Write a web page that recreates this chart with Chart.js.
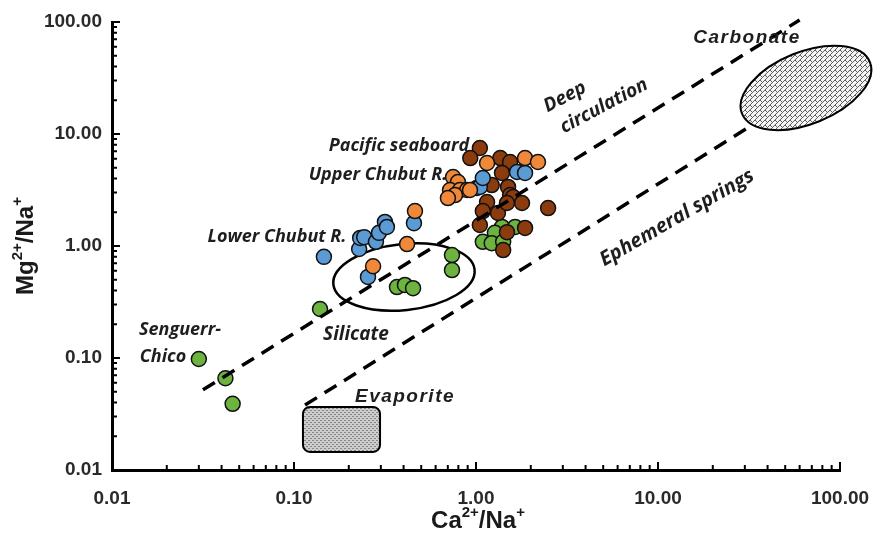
<!DOCTYPE html>
<html>
<head>
<meta charset="utf-8">
<script src="https://cdn.jsdelivr.net/npm/chart.js@4.4.1/dist/chart.umd.min.js"></script>
<style>
	html, body {margin: 0; padding: 0; background: #fff;}
	#wrap {width: 874px; height: 538px;}
</style>
</head>
<body>
<div id="wrap"><canvas id="chart"></canvas></div>
<script>
// Ca2+/Na+ (x) and Mg2+/Na+ (y)
const lowerChubutX = [0.146, 0.228, 0.231, 0.243, 0.282, 0.293, 0.316, 0.324, 0.255, 0.456, 1.01, 1.05, 1.09, 1.68, 1.86];
const lowerChubutY = [0.80, 0.94, 1.18, 1.20, 1.09, 1.31, 1.64, 1.48, 0.53, 1.60, 3.30, 3.37, 4.05, 4.58, 4.49];

const upperChubutX = [0.272, 0.418, 0.462, 0.748, 0.796, 0.720, 0.817, 0.893, 0.767, 0.701, 0.927, 1.15, 1.86, 2.19];
const upperChubutY = [0.66, 1.04, 2.05, 4.13, 3.73, 3.16, 3.16, 3.16, 2.85, 2.68, 3.16, 5.51, 6.10, 5.62];

const pacificX = [1.05, 0.93, 1.36, 1.54, 1.39, 1.22, 1.50, 1.54, 1.60, 1.15, 1.09, 1.32, 1.79, 1.48, 2.49, 1.05, 1.86, 1.48, 1.41];
const pacificY = [7.5, 6.1, 6.1, 5.62, 4.49, 3.5, 3.37, 2.85, 2.74, 2.47, 2.05, 1.97, 2.42, 2.42, 2.18, 1.54, 1.45, 1.33, 0.92];

const senguerrX = [0.030, 0.042, 0.046, 0.139, 0.368, 0.407, 0.451, 0.738, 0.738, 1.39, 1.64, 1.27, 1.09, 1.22, 1.41];
const senguerrY = [0.098, 0.066, 0.039, 0.274, 0.43, 0.449, 0.42, 0.83, 0.61, 1.48, 1.48, 1.31, 1.09, 1.06, 1.09];

// boundary lines
const deepLineX = [0.0316, 60];
const deepLineY = [0.052, 104];
const ephemeralLineX = [0.115, 31];
const ephemeralLineY = [0.038, 11.3];

const tickValues = [0.01, 0.1, 1, 10, 100];

const pts = (xs, ys) => xs.map((x, i) => ({x: x, y: ys[i]}));

const pointSet = (label, xs, ys, color) => ({
	label: label,
	data: pts(xs, ys),
	backgroundColor: color,
	borderColor: '#111',
	borderWidth: 1.5,
	pointRadius: 7.5,
	pointHoverRadius: 7.5,
	showLine: false,
});

const lineSet = (label, xs, ys) => ({
	label: label,
	data: pts(xs, ys),
	borderColor: '#000',
	borderWidth: 3.5,
	borderDash: [14, 9],
	pointRadius: 0,
	showLine: true,
	fill: false,
	clip: false,
});

function makePattern(ctx, size, draw) {
	const c = document.createElement('canvas');
	c.width = c.height = size;
	draw(c.getContext('2d'), size);
	return ctx.createPattern(c, 'repeat');
}

function superText(ctx, parts, x, y, size, rotate) {
	// parts: [text, isSuperscript]
	ctx.save();
	ctx.translate(x, y);
	if (rotate) ctx.rotate(rotate);
	const big = `bold ${size}px "Liberation Sans", Arial, sans-serif`;
	const small = `bold ${Math.round(size * 0.62)}px "Liberation Sans", Arial, sans-serif`;
	let w = 0;
	for (const [t, s] of parts) {
		ctx.font = s ? small : big;
		w += ctx.measureText(t).width;
	}
	let cx = -w / 2;
	ctx.fillStyle = '#1a1a1a';
	ctx.textBaseline = 'middle';
	for (const [t, s] of parts) {
		ctx.font = s ? small : big;
		ctx.fillText(t, cx, s ? -size * 0.35 : 0);
		cx += ctx.measureText(t).width;
	}
	ctx.restore();
}

const overlay = {
	id: 'overlay',
	beforeDatasetsDraw: chart => {
		const ctx = chart.ctx;
		const xs = chart.scales.x, ys = chart.scales.y;
		ctx.save();
		// Evaporite box
		const x0 = xs.getPixelForValue(0.112), x1 = xs.getPixelForValue(0.297);
		const y0 = ys.getPixelForValue(0.0365), y1 = ys.getPixelForValue(0.0145);
		ctx.fillStyle = makePattern(ctx, 4, (g, s) => {
			g.fillStyle = '#cdcdcd';
			g.fillRect(0, 0, s, s);
			g.fillStyle = '#858585';
			g.fillRect(0, 0, 2, 1);
			g.fillRect(2, 2, 2, 1);
		});
		ctx.strokeStyle = '#000';
		ctx.lineWidth = 2;
		ctx.beginPath();
		ctx.roundRect(x0, y0, x1 - x0, y1 - y0, 7);
		ctx.fill();
		ctx.stroke();

		// Carbonate ellipse
		const cx = xs.getPixelForValue(65), cy = ys.getPixelForValue(25.8);
		ctx.fillStyle = makePattern(ctx, 5, (g, s) => {
			g.fillStyle = '#f4f4f4';
			g.fillRect(0, 0, s, s);
			g.strokeStyle = '#5e5e5e';
			g.lineWidth = 1;
			g.beginPath();
			g.moveTo(0, s); g.lineTo(s, 0);
			g.moveTo(-1, 1); g.lineTo(1, -1);
			g.moveTo(s - 1, s + 1); g.lineTo(s + 1, s - 1);
			g.moveTo(0, 0); g.lineTo(s / 2, s / 2);
			g.stroke();
		});
		ctx.beginPath();
		ctx.ellipse(cx, cy, 69, 36, -22 * Math.PI / 180, 0, Math.PI * 2);
		ctx.fill();
		ctx.stroke();

		// Silicate ellipse
		const sx = xs.getPixelForValue(0.402), sy = ys.getPixelForValue(0.528);
		ctx.lineWidth = 2.5;
		ctx.beginPath();
		ctx.ellipse(sx, sy, 71, 33, -6 * Math.PI / 180, 0, Math.PI * 2);
		ctx.stroke();
		ctx.restore();
	},
	afterDraw: chart => {
		const ctx = chart.ctx;
		const xs = chart.scales.x, ys = chart.scales.y;
		const area = chart.chartArea;
		ctx.save();
		// inward ticks
		ctx.strokeStyle = '#000';
		ctx.lineWidth = 2;
		ctx.beginPath();
		for (let e = -2; e <= 2; e++) {
			for (let m = 1; m <= 9; m++) {
				const v = m * Math.pow(10, e);
				if (v > 100.001) break;
				const len = m === 1 ? 8 : 5;
				const px = xs.getPixelForValue(v);
				ctx.moveTo(px, area.bottom);
				ctx.lineTo(px, area.bottom - len);
				const py = ys.getPixelForValue(v);
				ctx.moveTo(area.left, py);
				ctx.lineTo(area.left + len, py);
			}
		}
		ctx.stroke();

		// annotations
		const note = (text, x, y, font, angle, spacing) => {
			ctx.save();
			ctx.translate(x, y);
			if (angle) ctx.rotate(angle * Math.PI / 180);
			ctx.font = font;
			if (spacing) ctx.letterSpacing = spacing + 'px';
			ctx.fillStyle = '#1e1e1e';
			ctx.textAlign = 'center';
			ctx.textBaseline = 'middle';
			ctx.fillText(text, 0, 0);
			ctx.restore();
		};
		const hum = 'italic bold 18px "Open Sans", "Noto Sans", sans-serif';
		const big = 'italic bold 19px "Open Sans", "Noto Sans", sans-serif';
		const ari = 'italic bold 19px "Liberation Sans", Arial, sans-serif';
		note('Pacific seaboard', 399, 146, hum);
		note('Upper Chubut R.', 378, 175, hum);
		note('Lower Chubut R.', 277, 237, hum);
		note('Senguerr-', 180, 330, hum);
		note('Chico', 163, 357, hum);
		note('Silicate', 356, 335, big);
		note('Evaporite', 405, 397, ari, 0, 1.5);
		note('Carbonate', 747, 38, ari, 0, 1.5);
		note('Deep', 565, 97, big, -28);
		note('circulation', 604, 106, big, -28);
		note('Ephemeral springs', 677, 218, 'italic bold 20px "Open Sans", "Noto Sans", sans-serif', -30);

		// axis titles
		superText(ctx, [['Ca', false], ['2+', true], ['/Na', false], ['+', true]], (area.left + area.right) / 2 + 2, 521, 24, 0);
		superText(ctx, [['Mg', false], ['2+', true], ['/Na', false], ['+', true]], 26, (area.top + area.bottom) / 2, 24, -Math.PI / 2);
		ctx.restore();
	}
};

const axis = (fit, extra) => Object.assign({
	type: 'logarithmic',
	min: 0.01,
	max: 100,
	grid: {display: false, drawTicks: false},
	border: {display: true, color: '#000', width: 3},
	afterBuildTicks: scale => {
		scale.ticks = tickValues.map(v => ({value: v}));
	},
	afterFit: fit,
}, extra);

const tickFont = {family: '"Liberation Sans", Arial, sans-serif', size: 19, weight: 'bold'};

new Chart(document.getElementById('chart'), {
	type: 'scatter',
	data: {
		datasets: [
			lineSet('Deep circulation', deepLineX, deepLineY),
			lineSet('Ephemeral springs', ephemeralLineX, ephemeralLineY),
			pointSet('Upper Chubut R.', upperChubutX, upperChubutY, '#f0883a'),
			pointSet('Lower Chubut R.', lowerChubutX, lowerChubutY, '#5b9bd5'),
			pointSet('Pacific seaboard', pacificX, pacificY, '#8a3c0e'),
			pointSet('Senguerr-Chico', senguerrX, senguerrY, '#6db33f'),
		]
	},
	plugins: [overlay],
	options: {
		responsive: true,
		maintainAspectRatio: false,
		animation: false,
		layout: {padding: {top: 22, right: 34, left: 0, bottom: 0}},
		plugins: {
			legend: {display: false},
			tooltip: {enabled: false},
		},
		scales: {
			x: axis(scale => {
				scale.height = 68;
				scale.paddingLeft = 0;
				scale.paddingRight = 0;
			}, {
				position: 'bottom',
				ticks: {
					padding: 17,
					color: '#2a2a2a',
					font: tickFont,
					maxRotation: 0,
					callback: v => Number(v).toFixed(2),
				},
			}),
			y: axis(scale => {
				scale.width = 112;
				scale.paddingTop = 0;
				scale.paddingBottom = 0;
			}, {
				position: 'left',
				ticks: {
					padding: 10,
					color: '#2a2a2a',
					font: tickFont,
					callback: v => Number(v).toFixed(2),
				},
			}),
		}
	}
});
</script>
</body>
</html>
